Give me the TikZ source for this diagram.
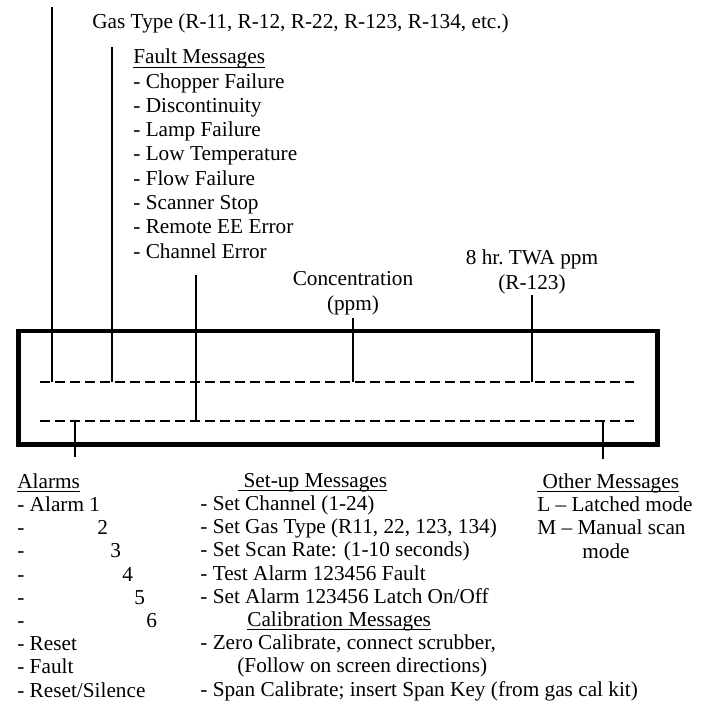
\documentclass[tikz,border=0pt]{standalone}
\usepackage{fontspec}
\setmainfont{Liberation Serif}
\usepackage{tikz}
\usetikzlibrary{positioning,calc}
\newcommand{\hdline}[1]{\leavevmode\setbox0=\hbox{#1}\rlap{\rule[-0.8mm]{\wd0}{0.6pt}}\box0}
\tikzstyle{msg} = [inner sep=0pt, align=left, font=\fontsize{12.1}{13.8}\selectfont]
\tikzstyle{lowmsg} = [inner sep=0pt, align=left, font=\fontsize{12.1}{13.2}\selectfont]
\tikzstyle{link} = [line width=1.1pt]
\tikzstyle{readout} = [line width=1.5pt, dash pattern=on 2mm off 1mm]
\tikzstyle{panel} = [line width=2.8pt]

\begin{document}
\begin{tikzpicture}[x=0.2mm, y=-0.2mm]
    \useasboundingbox (0,0) rectangle (711,711);
    % display panel and its two readout lines
    \draw[panel] (18.5,331) rectangle (657.5,444.5);
    \coordinate (r1w) at (40,382);
    \coordinate (r1e) at (634,382);
    \coordinate (r2w) at (40,421);
    \coordinate (r2e) at (634,421);
    \draw[readout] (r1w) -- (r1e);
    \draw[readout] (r2w) -- (r2e);

    % labels above the panel (base = last line)
    \node[msg, anchor=base west] (gastype) at (92,28) {Gas Type (R-11, R-12, R-22, R-123, R-134, etc.)};
    \node[msg, anchor=base west] (fault) at (133,258) {\hdline{Fault Messages}\\- Chopper Failure\\- Discontinuity\\- Lamp Failure\\- Low Temperature\\- Flow Failure\\- Scanner Stop\\- Remote EE Error\\- Channel Error};
    \node[msg, align=center, anchor=base] (conc) at (353,310) {Concentration\\(ppm)};
    \node[msg, align=center, anchor=base] (twa) at (532,289) {8 hr.\ TWA ppm\\(R-123)};

    % labels below the panel
    \node[lowmsg, anchor=base west] (alarms) at (17,697) {\hdline{Alarms}\\- Alarm 1\\\makebox[16mm][l]{-}2\\\makebox[18.6mm][l]{-}3\\\makebox[21mm][l]{-}4\\\makebox[23.4mm][l]{-}5\\\makebox[25.8mm][l]{-}6\\- Reset\\- Fault\\- Reset/Silence};
    \node[lowmsg, anchor=base west] (setup) at (200,696) {\hspace*{7.6mm}\hdline{\ Set-up Messages}\\- Set Channel (1-24)\\- Set Gas Type (R11, 22, 123, 134)\\- Set Scan Rate: (1-10 seconds)\\- Test Alarm 123456 Fault\\- Set Alarm 123456 Latch On/Off\\\hspace*{9.4mm}\hdline{Calibration Messages}\\- Zero Calibrate, connect scrubber,\\\hspace*{7.4mm}(Follow on screen directions)\\- Span Calibrate; insert Span Key (from gas cal kit)};
    \node[lowmsg, anchor=base west] (other) at (537,558) {\hdline{\ Other Messages}\\L -- Latched mode\\M -- Manual scan\\\hspace*{9mm}mode};

    % leader lines
    \coordinate (gasleg) at (52,7);
    \coordinate (faultleg) at (112,47);
    \coordinate (chanleg) at (196,275);
    \coordinate (alarmleg) at (75,457);
    \coordinate (otherleg) at (603,459);
    \draw[link] (gasleg) -- (gasleg |- r1w);
    \draw[link] (faultleg) -- (faultleg |- r1w);
    \draw[link] (chanleg) -- (chanleg |- r2w);
    \draw[link] ([yshift=-0.7mm]conc.south) -- (conc.south |- r1w);
    \draw[link] ([yshift=-0.3mm]twa.south) -- (twa.south |- r1w);
    \draw[link] (alarmleg |- r2w) -- (alarmleg);
    \draw[link] (otherleg |- r2w) -- (otherleg);
\end{tikzpicture}
\end{document}
